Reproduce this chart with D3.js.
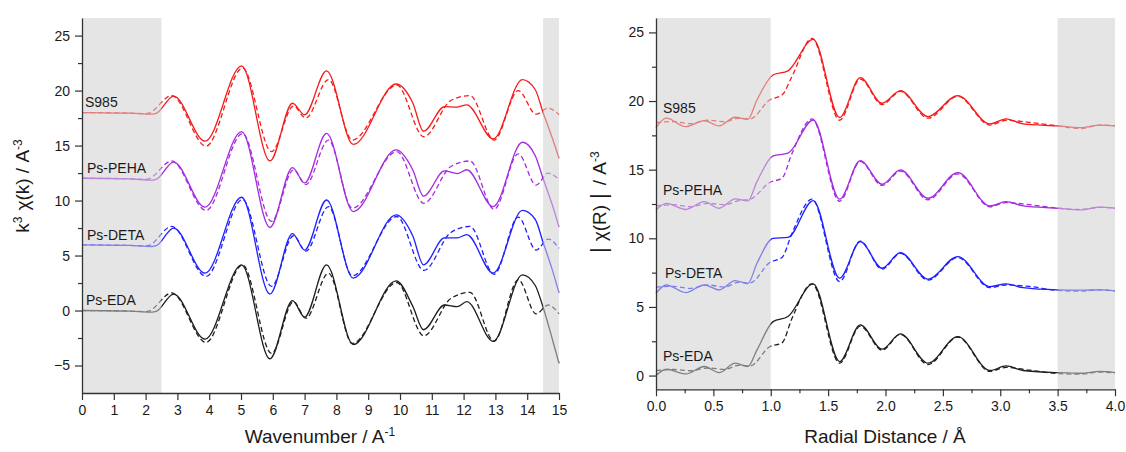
<!DOCTYPE html>
<html>
<head>
<meta charset="utf-8">
<script src="https://cdn.jsdelivr.net/npm/d3@7"></script>
<style>
  body { margin: 0; background: #fff; }
  text { font-family: "Liberation Sans", Arial, sans-serif; fill: #1a1a1a; }
</style>
</head>
<body>
<svg id="chart" width="1126" height="452"></svg>
<script>
/*
    EXAFS panels: k-space (left) and R-space (right), data (solid) and fit (dashed)
*/

// ---- k-space knots (A^-1) ----
var kExp = [0, 1.5, 2.2, 2.35, 2.88, 3.87, 5.02, 5.91, 6.62, 7.0, 7.69, 8.53, 9.88, 10.4, 10.74, 11.4, 11.8, 12.1, 12.93, 13.85, 14.25, 14.5, 14.8, 15.0];
var kFit = [0, 1.5, 1.95, 2.1, 2.82, 3.9, 5.05, 5.96, 6.65, 7.04, 7.75, 8.5, 9.9, 10.75, 11.6, 12.2, 12.96, 13.72, 14.28, 14.66, 15.0];

// k^3 chi(k), stacked as plotted
var chikS985    = [18.0, 17.95, 17.85, 17.95, 19.5, 15.4, 22.25, 13.6, 18.85, 17.8, 21.8, 15.1, 20.6, 18.9, 16.3, 18.55, 18.5, 18.7, 15.6, 21.0, 20.1, 18.0, 15.6, 13.85];
var chikPEHA    = [12.03, 11.98, 11.85, 11.95, 13.5, 9.4, 16.27, 7.55, 13.0, 11.6, 16.1, 9.0, 14.6, 12.8, 10.4, 12.7, 12.45, 12.8, 9.45, 15.3, 14.1, 12.0, 9.5, 7.6];
var chikDETA    = [5.97, 5.92, 5.82, 5.92, 7.5, 3.4, 10.3, 1.5, 7.0, 5.5, 10.05, 2.95, 8.7, 6.8, 4.15, 6.6, 6.6, 6.9, 3.4, 9.1, 8.3, 6.2, 3.6, 1.6];
var chikEDA     = [0, -0.05, -0.15, -0.05, 1.5, -2.6, 4.15, -4.4, 0.9, -0.6, 4.15, -3.1, 2.7, 0.4, -1.75, 0.5, 0.35, 0.8, -2.8, 3.25, 2.3, 0.3, -2.7, -4.8];

var chikS985Fit = [18.0, 17.95, 17.9, 17.95, 19.55, 14.95, 22.05, 14.45, 18.6, 17.5, 21.0, 15.5, 20.5, 15.8, 19.1, 19.55, 15.5, 20.0, 17.85, 18.4, 17.8];
var chikPEHAFit = [12.03, 11.98, 11.93, 11.98, 13.6, 9.1, 16.1, 8.1, 12.8, 11.45, 15.5, 9.3, 14.45, 9.75, 13.1, 13.6, 9.2, 14.25, 11.4, 12.5, 11.9];
var chikDETAFit = [5.97, 5.92, 5.87, 5.92, 7.65, 3.1, 10.1, 2.2, 6.8, 5.4, 9.45, 3.15, 8.55, 3.65, 7.1, 7.65, 3.3, 8.5, 5.5, 6.5, 5.65];
var chikEDAFit  = [0, -0.05, -0.1, -0.05, 1.6, -2.9, 4.15, -3.9, 0.8, -0.7, 3.4, -3.0, 2.55, -2.3, 1.1, 1.65, -2.8, 2.8, -0.3, 0.5, -0.3];

// ---- R-space knots (A) ----
var rExp = [0, 0.09, 0.26, 0.42, 0.55, 0.69, 0.8, 0.88, 1.02, 1.15, 1.37, 1.6, 1.78, 1.97, 2.13, 2.37, 2.63, 2.91, 3.05, 3.2, 3.5, 3.7, 3.87, 4.0];
var rFit = [0, 0.15, 0.3, 0.45, 0.6, 0.72, 0.82, 0.99, 1.1, 1.18, 1.36, 1.6, 1.78, 1.97, 2.13, 2.37, 2.63, 2.91, 3.05, 3.25, 3.5, 3.7, 3.87, 4.0];

// |chi(R)|, stacked as plotted
var chirS985    = [18.06, 18.75, 18.13, 18.57, 18.19, 18.82, 18.67, 20.08, 21.9, 22.2, 24.5, 18.8, 21.7, 19.84, 20.76, 18.87, 20.4, 18.33, 18.7, 18.33, 18.19, 18.07, 18.25, 18.2];
var chirPEHA    = [12.07, 12.55, 12.1, 12.67, 12.19, 12.87, 12.72, 14.13, 16.0, 16.2, 18.62, 12.85, 15.66, 13.94, 14.98, 12.92, 14.79, 12.36, 12.67, 12.36, 12.19, 12.07, 12.27, 12.19];
var chirDETA    = [6.0, 6.6, 6.05, 6.6, 6.24, 6.92, 6.7, 8.18, 10.0, 10.07, 12.75, 7.1, 9.76, 7.82, 8.96, 7.02, 8.67, 6.48, 6.68, 6.4, 6.24, 6.22, 6.25, 6.17];
var chirEDA     = [0, 0.46, 0.12, 0.66, 0.22, 0.9, 0.66, 1.87, 3.93, 4.3, 6.68, 1.02, 3.69, 1.92, 3.04, 0.9, 2.84, 0.37, 0.7, 0.37, 0.22, 0.17, 0.3, 0.22];

var chirS985Fit = [18.43, 18.5, 18.35, 18.6, 18.5, 18.75, 18.7, 20.08, 20.45, 21.7, 24.57, 18.6, 21.6, 19.75, 20.7, 18.75, 20.34, 18.25, 18.6, 18.45, 18.19, 18.0, 18.25, 18.2];
var chirPEHAFit = [12.36, 12.45, 12.3, 12.55, 12.45, 12.75, 12.85, 14.06, 14.4, 16.07, 18.7, 12.7, 15.6, 13.85, 14.9, 12.8, 14.7, 12.3, 12.6, 12.45, 12.2, 12.1, 12.25, 12.2];
var chirDETAFit = [6.44, 6.5, 6.35, 6.6, 6.45, 6.8, 6.75, 8.23, 8.62, 10.25, 12.85, 6.85, 9.8, 7.75, 8.9, 6.95, 8.6, 6.4, 6.6, 6.5, 6.2, 6.15, 6.25, 6.15];
var chirEDAFit  = [0.37, 0.45, 0.35, 0.55, 0.45, 0.75, 0.7, 2.1, 2.4, 4.06, 6.68, 0.9, 3.6, 1.85, 3.0, 0.8, 2.8, 0.3, 0.6, 0.4, 0.15, 0.1, 0.25, 0.2];

var sampleNames = ["S985", "Ps-PEHA", "Ps-DETA", "Ps-EDA"];
var sampleColors = ["#f51c1c", "#a42ae0", "#2020ff", "#1e1e1e"];

// fit windows (shaded)
var kWindows = [[0, 2.5], [14.5, 15]];
var rWindows = [[0, 1.0], [3.5, 4.0]];

// ticks
var kTickValues = [0, 1, 2, 3, 4, 5, 6, 7, 8, 9, 10, 11, 12, 13, 14, 15];
var chikTickValues = [-5, 0, 5, 10, 15, 20, 25];
var chikMinorTicks = [-2.5, 2.5, 7.5, 12.5, 17.5, 22.5];
var rTickValues = [0, 0.5, 1.0, 1.5, 2.0, 2.5, 3.0, 3.5, 4.0];
var rMinorTicks = [0.25, 0.75, 1.25, 1.75, 2.25, 2.75, 3.25, 3.75];
var chirTickValues = [0, 5, 10, 15, 20, 25];
var chirMinorTicks = [2.5, 7.5, 12.5, 17.5, 22.5];

var svg = d3.select("#chart");

function drawPanel(p) {
    var g = svg.append("g");

    var line = function(xs) {
        return d3.line()
            .x(function(d, i) { return p.x(xs[i]); })
            .y(function(d) { return p.y(d); })
            .curve(d3.curveMonotoneX);
    };

    // fit curves (dashed) and data (solid)
    p.fits.forEach(function(vals, i) {
        g.append("path")
            .datum(vals)
            .attr("fill", "none")
            .attr("stroke", sampleColors[i])
            .attr("stroke-width", 1.3)
            .attr("stroke-dasharray", "5,3")
            .attr("d", line(p.xFit));
    });
    p.exps.forEach(function(vals, i) {
        g.append("path")
            .datum(vals)
            .attr("fill", "none")
            .attr("stroke", sampleColors[i])
            .attr("stroke-width", 1.3)
            .attr("d", line(p.xExp));
    });

    // shaded windows sit on top of the lines, so lines look faded there
    var yTop = p.y.range()[1], yBot = p.y.range()[0];
    g.selectAll(".win")
        .data(p.windows)
        .enter().append("rect")
        .attr("x", function(d) { return p.x(d[0]); })
        .attr("width", function(d) { return p.x(d[1]) - p.x(d[0]); })
        .attr("y", yTop)
        .attr("height", yBot - yTop)
        .attr("fill", "#cfcfcf")
        .attr("fill-opacity", 0.55);

    // sample labels
    g.selectAll(".lab")
        .data(sampleNames)
        .enter().append("text")
        .attr("x", function(d, i) { return p.labelPos[i][0]; })
        .attr("y", function(d, i) { return p.labelPos[i][1]; })
        .style("font-size", "14px")
        .text(function(d) { return d; });

    // axes
    g.append("g")
        .attr("transform", "translate(0," + yBot + ")")
        .call(d3.axisBottom(p.x).tickValues(p.xTicks).tickSize(7).tickSizeOuter(0).tickPadding(5).tickFormat(p.xFormat));
    if (p.xMinor) {
        g.append("g")
            .attr("transform", "translate(0," + yBot + ")")
            .call(d3.axisBottom(p.x).tickValues(p.xMinor).tickSize(4).tickFormat(""))
            .select(".domain").remove();
    }
    g.append("g")
        .attr("transform", "translate(" + p.x.range()[0] + ",0)")
        .call(d3.axisLeft(p.y).tickValues(p.yTicks).tickSize(7).tickSizeOuter(0).tickPadding(5).tickFormat(d3.format("d")));
    g.append("g")
        .attr("transform", "translate(" + p.x.range()[0] + ",0)")
        .call(d3.axisLeft(p.y).tickValues(p.yMinor).tickSize(4).tickFormat(""))
        .select(".domain").remove();

    g.selectAll(".domain").attr("stroke", "#333").attr("stroke-width", 1.3);
    g.selectAll(".tick line").attr("stroke", "#333").attr("stroke-width", 1.2);
    g.selectAll(".tick text").style("font-size", "14px").style("fill", "#1a1a1a")
        .style("font-family", "'Liberation Sans', Arial, sans-serif");
}

// left panel: k-space
var xK = d3.scaleLinear().domain([0, 15]).range([82, 559]);
var yK = d3.scaleLinear().domain([-7.5, 26.6]).range([393, 18]);
drawPanel({
    x: xK, y: yK,
    xExp: kExp, xFit: kFit,
    exps: [chikS985, chikPEHA, chikDETA, chikEDA],
    fits: [chikS985Fit, chikPEHAFit, chikDETAFit, chikEDAFit],
    windows: kWindows,
    xTicks: kTickValues, xMinor: null, xFormat: d3.format("d"),
    yTicks: chikTickValues, yMinor: chikMinorTicks,
    labelPos: [[85, 107], [87, 173], [87, 240], [86, 305]]
});

// right panel: R-space
var xR = d3.scaleLinear().domain([0, 4]).range([656, 1115]);
var yR = d3.scaleLinear().domain([-1, 26.05]).range([389.3, 18]);
drawPanel({
    x: xR, y: yR,
    xExp: rExp, xFit: rFit,
    exps: [chirS985, chirPEHA, chirDETA, chirEDA],
    fits: [chirS985Fit, chirPEHAFit, chirDETAFit, chirEDAFit],
    windows: rWindows,
    xTicks: rTickValues, xMinor: rMinorTicks, xFormat: d3.format(".1f"),
    yTicks: chirTickValues, yMinor: chirMinorTicks,
    labelPos: [[663, 113], [663, 195], [665, 278], [663, 361]]
});

// axis titles
function sup(t, s) {
    t.append("tspan").attr("dy", "-7").style("font-size", "12px").text(s);
}

var kx = svg.append("text").attr("x", 320).attr("y", 443).attr("text-anchor", "middle").style("font-size", "19px");
kx.append("tspan").text("Wavenumber / A");
sup(kx, "-1");

svg.append("text").attr("x", 885).attr("y", 443).attr("text-anchor", "middle").style("font-size", "19px")
    .text("Radial Distance / Å");

var ky = svg.append("text").attr("transform", "translate(29,186) rotate(-90)").attr("text-anchor", "middle").style("font-size", "19px");
ky.append("tspan").text("k");
sup(ky, "3");
ky.append("tspan").attr("dy", "7").attr("dx", "6").text("χ(k) / A");
sup(ky, "-3");

var ry = svg.append("text").attr("transform", "translate(606,253) rotate(-90)").style("font-size", "19px");
ry.append("tspan").style("font-size", "22px").text("|");
ry.append("tspan").attr("dx", "6").text("χ(R)");
ry.append("tspan").attr("dx", "6").style("font-size", "22px").text("|");
ry.append("tspan").attr("dx", "8").text("/ A");
sup(ry, "-3");
</script>
</body>
</html>
